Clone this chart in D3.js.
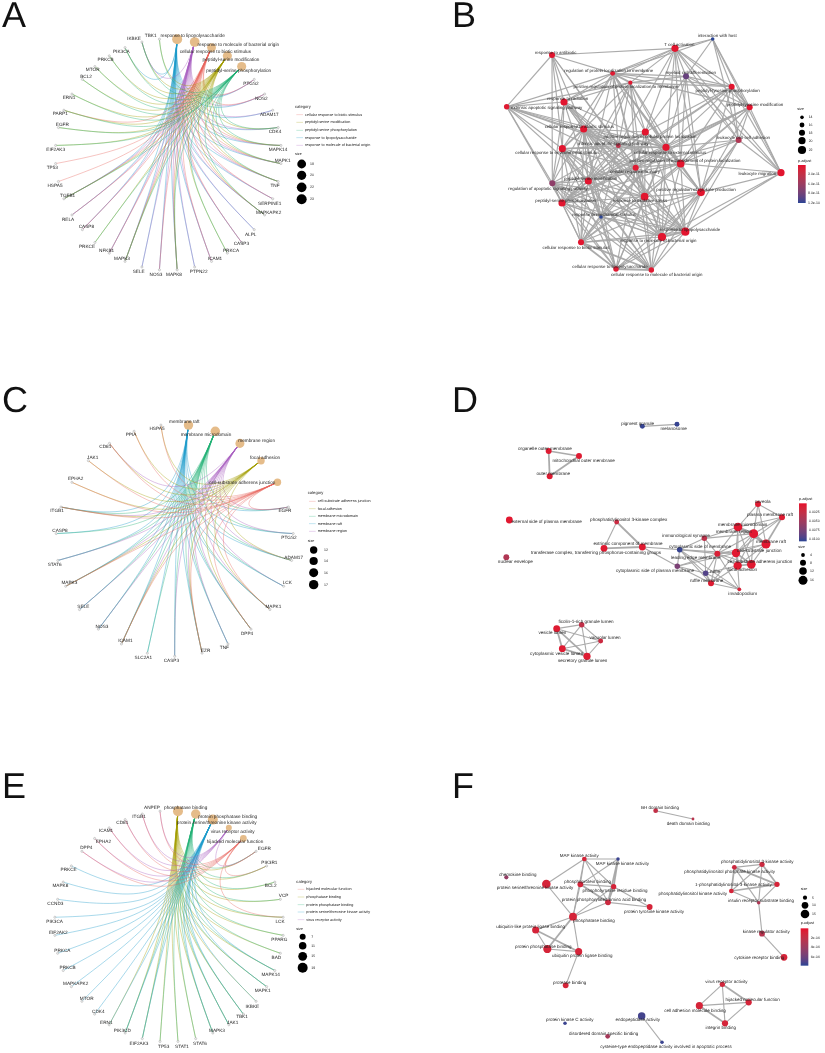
<!DOCTYPE html>
<html><head><meta charset="utf-8">
<script src="https://cdn.jsdelivr.net/npm/d3@7"></script>
<style>
html,body{margin:0;padding:0;background:#fff}
svg{display:block;filter:blur(0.3px)}
text{font-family:"Liberation Sans",Arial,sans-serif;fill:#222;text-rendering:geometricPrecision}
</style></head><body>
<svg id="chart" width="825" height="1053" text-rendering="geometricPrecision"></svg>
<script>
/* ---------- Panel A: circular gene-concept network ---------- */
const aCats=["response to lipopolysaccharide","response to molecule of bacterial origin","cellular response to biotic stimulus","peptidyl-serine modification","peptidyl-serine phosphorylation"];
const aCatSizes=[23,22,19,20,20];
const aCatColorIdx=[3,4,0,1,2];
const aCatLabelXY=[[578,107],[715,133],[646,155],[693,178],[716,211]];
const aGenes=["PTGS2","NOS2","ADAM17","CDK4","MAPK14","MAPK1","TNF","SERPINE1","MAPKAPK2","ALPL","CASP3","PRKCA","ICAM1","PTPN22","MAPK8","NOS3","SELE","MAPK3","NFKB1","PRKCE","CASP8","RELA","TGFB1","HSPA5","TP53","EIF2AK3","EGFR","PARP1","ERN1","BCL2","MTOR","PRKCB","PIK3CA","IKBKE","TBK1"];
const aGeneLabelXY=[[753,249],[784,294],[808,343],[825,394],[834,449],[848,481],[825,556],[809,609],[806,636],[752,702],[724,731],[693,752],[645,776],[596,815],[522,822],[468,822],[416,814],[366,776],[320,752],[261,740],[259,680],[204,657],[203,586],[165,557],[157,503],[167,448],[187,373],[181,341],[207,293],[258,228],[278,207],[317,179],[364,155],[402,116],[452,107]];
const aMembers=[
["PTGS2","NOS2","ADAM17","MAPK14","MAPK1","TNF","SERPINE1","MAPKAPK2","ALPL","CASP3","ICAM1","PTPN22","MAPK8","NOS3","SELE","MAPK3","NFKB1","CASP8","RELA","TGFB1","PIK3CA","IKBKE","CDK4"],
["PTGS2","NOS2","ADAM17","MAPK14","MAPK1","TNF","SERPINE1","MAPKAPK2","ALPL","CASP3","ICAM1","PTPN22","MAPK8","NOS3","SELE","MAPK3","NFKB1","CASP8","RELA","TGFB1","IKBKE","CDK4"],
["PTGS2","NOS2","MAPK14","MAPK1","TNF","SERPINE1","MAPKAPK2","CASP3","ICAM1","MAPK8","NOS3","MAPK3","NFKB1","RELA","TGFB1","HSPA5","TP53","PARP1","CASP8"],
["CDK4","MAPK14","MAPK1","TNF","MAPKAPK2","PRKCA","MAPK8","MAPK3","PRKCE","TGFB1","EIF2AK3","EGFR","PARP1","ERN1","BCL2","MTOR","PRKCB","PIK3CA","IKBKE","TBK1"],
["CDK4","MAPK14","MAPK1","TNF","MAPKAPK2","PRKCA","MAPK8","MAPK3","PRKCE","TGFB1","EIF2AK3","EGFR","PARP1","ERN1","BCL2","MTOR","PRKCB","PIK3CA","IKBKE","TBK1"]];
const aLegendCats=["cellular response to biotic stimulus","peptidyl-serine modification","peptidyl-serine phosphorylation","response to lipopolysaccharide","response to molecule of bacterial origin"];
const aLegendSizes=[19,20,22,23];

/* ---------- Panel C ---------- */
const cCats=["membrane raft","membrane microdomain","membrane region","focal adhesion","cell-substrate adherens junction"];
const cCatSizes=[17,17,16,12,12];
const cCatColorIdx=[3,2,4,1,0];
const cCatLabelXY=[[553,140],[618,179],[770,196],[795,247],[727,322]];
const cGenes=["EGFR","PTGS2","ADAM17","LCK","MAPK1","DPP4","TNF","EZR","CASP3","SLC2A1","ICAM1","NOS3","SELE","MAPK3","STAT6","CASP8","ITGB1","EPHA2","JAK1","CD81","PPIA","HSPA5"];
const cGeneLabelXY=[[855,405],[867,488],[881,547],[862,623],[820,695],[741,775],[673,818],[617,825],[514,855],[430,848],[376,797],[306,753],[250,695],[208,623],[164,568],[180,465],[171,407],[227,311],[278,247],[316,215],[393,178],[471,160]];
const cMembers=[
["EGFR","PTGS2","ADAM17","LCK","MAPK1","TNF","EZR","CASP3","SLC2A1","NOS3","SELE","MAPK3","STAT6","CASP8","ITGB1","DPP4","ICAM1"],
["EGFR","PTGS2","ADAM17","LCK","MAPK1","TNF","EZR","CASP3","SLC2A1","NOS3","SELE","MAPK3","STAT6","CASP8","ITGB1","DPP4","ICAM1"],
["EGFR","PTGS2","ADAM17","LCK","MAPK1","TNF","DPP4","CASP3","ICAM1","NOS3","SELE","MAPK3","STAT6","ITGB1","CD81","EZR"],
["HSPA5","PPIA","CD81","JAK1","EPHA2","ITGB1","MAPK3","ICAM1","EZR","DPP4","MAPK1","ADAM17"],
["HSPA5","PPIA","CD81","JAK1","EPHA2","ITGB1","MAPK3","ICAM1","EZR","DPP4","MAPK1","EGFR"]];
const cLegendCats=["cell-substrate adherens junction","focal adhesion","membrane microdomain","membrane raft","membrane region"];
const cLegendSizes=[12,14,16,17];

/* ---------- Panel E ---------- */
const eCats=["phosphatase binding","protein phosphatase binding","protein serine/threonine kinase activity","virus receptor activity","hijacked molecular function"];
const eCatSizes=[19,17,19,7,9];
const eCatColorIdx=[1,2,3,4,0];
const eCatLabelXY=[[557,128],[683,153],[650,173],[698,198],[705,230]];
const eGenes=["EGFR","PIK3R1","BCL2","VCP","LCK","PPARG","BAD","MAPK14","MAPK1","IKBKE","TBK1","JAK1","MAPK3","STAT6","STAT1","TP53","EIF2AK3","PIK3CD","ERN1","CDK4","MTOR","MAPKAPK2","PRKCB","PRKCA","EIF2AK2","PIK3CA","CCND3","MAPK8","PRKCE","DPP4","EPHA2","ICAM1","CD81","ITGB1","ANPEP"];
const eGeneLabelXY=[[793,250],[808,292],[812,362],[851,392],[840,468],[838,524],[829,578],[812,629],[788,677],[757,723],[726,753],[698,773],[651,796],[600,836],[546,844],[491,843],[417,835],[367,797],[319,772],[295,740],[260,700],[227,655],[203,607],[187,556],[175,503],[164,468],[166,414],[181,362],[206,314],[259,247],[310,230],[318,196],[367,173],[417,155],[456,128]];
const eMembers=[
["EGFR","PIK3R1","BCL2","VCP","LCK","PPARG","BAD","MAPK14","MAPK1","IKBKE","JAK1","MAPK3","STAT6","STAT1","TP53","EIF2AK3","PIK3CD","TBK1","ERN1"],
["PIK3R1","BCL2","VCP","LCK","PPARG","BAD","MAPK14","MAPK1","JAK1","MAPK3","STAT6","STAT1","TP53","EIF2AK3","EGFR","PIK3CD","TBK1"],
["MAPK14","MAPK1","IKBKE","TBK1","JAK1","MAPK3","EIF2AK3","PIK3CD","ERN1","CDK4","MTOR","MAPKAPK2","PRKCB","PRKCA","EIF2AK2","PIK3CA","CCND3","MAPK8","PRKCE"],
["EGFR","DPP4","EPHA2","ICAM1","CD81","ITGB1","ANPEP"],
["EGFR","DPP4","EPHA2","ICAM1","CD81","ITGB1","ANPEP","PIK3R1","LCK"]];
const eLegendCats=["hijacked molecular function","phosphatase binding","protein phosphatase binding","protein serine/threonine kinase activity","virus receptor activity"];
const eLegendSizes=[7,11,15,19];

/* ---------- Panel B: enrichment map ---------- */
const bTerms=["interaction with host","T cell activation","response to antibiotic","regulation of protein localization to membrane","myeloid cell differentiation","positive regulation of protein localization to membrane","peptidyl-tyrosine phosphorylation","response to radiation","extrinsic apoptotic signaling pathway","peptidyl-tyrosine modification","cellular response to abiotic stimulus","positive regulation of cellular protein localization","leukocyte cell-cell adhesion","intrinsic apoptotic signaling pathway","cellular response to external stimulus","cellular response to environmental stimulus","positive regulation of establishment of protein localization","cellular response to injury","leukocyte migration","peptidyl-serine modification","regulation of apoptotic signaling pathway","positive regulation of cytokine production","response to oxidative stress","peptidyl-serine phosphorylation","response to mechanical stimulus","response to lipopolysaccharide","response to molecule of bacterial origin","cellular response to biotic stimulus","cellular response to lipopolysaccharide","cellular response to molecule of bacterial origin"];
const bX=[878,765,396,578,798,631,935,432,260,989,491,676,956,595,738,427,782,647,1083,505,397,843,674,426,543,796,726,483,588,694];
const bY=[117,145,165,220,229,248,260,306,320,322,387,396,420,437,442,446,491,503,518,543,550,577,590,609,651,695,711,727,807,810];
const bLabelX=[892,778,407,566,812,618,923,443,380,1005,478,690,970,580,750,412,795,645,1012,512,384,828,660,437,552,810,715,468,570,710];
const bLabelY=[107,133,157,210,218,258,272,296,323,312,378,409,411,429,456,457,482,514,520,534,564,569,602,601,644,687,722,741,800,823];
const bSize=[14,20,18,16,18,15,18,20,17,18,20,20,18,16,20,20,21,18,20,20,18,21,21,20,14,22,22,18,17,17];
const bP=[1.2e-10,5e-12,5e-12,8e-12,9.5e-11,8e-12,5e-12,5e-12,8e-12,5e-12,5e-12,5e-12,4.5e-11,3.5e-11,5e-12,5e-12,5e-12,8e-12,5e-12,5e-12,7e-11,5e-12,5e-12,5e-12,1.2e-10,5e-12,5e-12,5e-12,8e-12,8e-12];
const bAdj=[[1,4,6,9,12,18,3],[2,3,4,5,6,9,11,12,14,16,18,21,7,13],[3,7,8,10,15,20,17,13],[4,5,6,7,8,9,10,11,13,14,15,16,17,19,22,21],[5,6,9,12,16,18,21,11,14],[6,7,8,10,11,13,14,16,17,19,22,23],[9,12,18,16,21,19,23,11,14],[8,10,15,20,17,22,14,13,24,26,25],[10,13,15,20,19,23,17,16,14],[12,16,18,21,19,23,14,17,22],[11,13,14,15,16,17,19,20,22,23,24,25,26,27,28,29],[13,14,16,17,19,21,22,23,25,26],[14,16,18,21,25,26,17],[14,15,16,17,20,22,24,27,19,23],[15,16,17,19,21,22,23,24,25,26,27,28,29],[17,19,20,22,23,24,25,26,27,28,29],[17,18,19,21,22,23,25,26,27],[19,20,21,22,23,24,25,26,27,28,29],[21,25,26],[20,22,23,25,26,27,28,29,24],[22,23,24,27,25,26,28,29],[22,25,26,27,28,29,24],[23,24,25,26,27,28,29],[24,25,26,27,28,29],[25,26,27,28,29],[26,27,28,29],[27,28,29],[28,29],[29],[]];
const bStrong=[[25,26],[19,23],[6,9],[28,29],[15,10],[3,5],[27,28],[27,29]];
const bSizeLegend=[14,16,18,20,22];
const bPTicks=[3e-11,6e-11,9e-11,1.2e-10];
const bPTickLabels=["3.0e-11","6.0e-11","9.0e-11","1.2e-10"];

/* ---------- Panel D: enrichment map ---------- */
const dTerms=["pigment granule","melanosome","organelle outer membrane","mitochondrial outer membrane","outer membrane","caveola","plasma membrane raft","external side of plasma membrane","phosphatidylinositol 3-kinase complex","membrane microdomain","membrane region","membrane raft","immunological synapse","extrinsic component of membrane","transferase complex, transferring phosphorus-containing groups","cytoplasmic side of membrane","cell-substrate junction","leading edge membrane","focal adhesion","cell-substrate adherens junction","nuclear envelope","cytoplasmic side of plasma membrane","ruffle","ruffle membrane","invadopodium","ficolin-1-rich granule lumen","vesicle lumen","vacuolar lumen","cytoplasmic vesicle lumen","secretory granule lumen"];
const dX=[457,561,176,267,179,804,876,58,380,744,791,828,643,342,457,569,738,682,743,784,49,562,647,663,748,275,200,332,217,291];
const dY=[79,73,153,168,229,312,352,360,366,381,401,432,415,445,441,449,459,461,497,493,472,499,520,550,568,674,686,723,746,769];
const dLabelX=[443,551,165,281,190,818,840,170,416,758,731,843,588,414,318,630,808,617,757,810,76,495,675,650,758,288,187,345,200,278];
const dLabelY=[70,85,145,180,220,303,344,365,358,372,393,423,407,431,456,440,450,472,509,485,483,510,515,541,579,665,698,712,759,781];
const dSize=[6,6,8,8,8,8,8,10,6,15,16,16,7,10,10,7,14,8,14,15,8,7,7,8,4,7,10,6,10,11];
const dP=[.0105,.0105,.0006,.0006,.0006,.0006,.0006,.0004,.002,.0004,.0004,.0004,.003,.0005,.0005,.0105,.0004,.001,.0004,.0004,.004,.0075,.0095,.0006,.0012,.0028,.0006,.002,.0006,.0006];
const dLinks=[[0,1],[2,3,1],[2,4,1],[3,4,1],[5,6],[5,9],[5,10],[5,11],[6,9],[6,10],[6,11,1],[6,16],[8,13],[8,14,1],[13,14,1],[14,15],[14,21],[9,10,1],[9,11,1],[10,11,1],[9,16],[9,18],[9,19],[10,16],[10,18],[10,19],[11,16],[11,18],[11,19],[9,17],[10,17],[11,17],[12,9],[12,10],[12,17],[12,15],[12,22],[15,21],[15,22],[15,24],[15,23],[15,16],[15,17],[16,18,1],[16,19,1],[18,19,1],[16,17],[17,18],[17,19],[17,22],[17,23],[17,24],[17,21],[21,22],[21,23],[21,16],[22,23,1],[22,18],[22,24],[23,18],[23,24],[23,16],[24,18],[25,26],[25,27],[25,28],[25,29],[26,27],[26,28,1],[26,29,1],[27,28],[27,29],[28,29,1]];
const dSizeLegend=[4,8,12,16];
const dPTicks=[.0025,.005,.0075,.01];
const dPTickLabels=["0.0025","0.0050","0.0075","0.0100"];

/* ---------- Panel F: enrichment map ---------- */
const fTerms=["BH domain binding","death domain binding","MAP kinase activity","MAP kinase kinase activity","chemokine binding","protein serine/threonine kinase activity","phosphoprotein binding","phosphotyrosine residue binding","protein phosphorylated amino acid binding","protein tyrosine kinase activity","phosphatase binding","ubiquitin-like protein ligase binding","protein phosphatase binding","ubiquitin protein ligase binding","protease binding","phosphatidylinositol 3-kinase activity","phosphatidylinositol phosphate kinase activity","1-phosphatidylinositol-3-kinase activity","phosphatidylinositol kinase activity","insulin receptor substrate binding","kinase regulator activity","cytokine receptor binding","virus receptor activity","hijacked molecular function","cell adhesion molecule binding","integrin binding","protein kinase C activity","endopeptidase activity","disordered domain specific binding","cysteine-type endopeptidase activity involved in apoptotic process"];
const fX=[557,669,343,444,109,229,331,431,414,539,309,197,232,326,287,876,793,921,784,866,876,942,757,836,688,765,285,515,413,576];
const fY=[62,87,207,207,262,282,283,290,337,351,380,420,477,485,586,223,232,283,303,338,431,502,583,637,647,700,700,678,739,757];
const fLabelX=[570,655,328,457,143,195,353,435,402,552,372,182,220,337,299,862,779,790,668,873,889,868,769,848,675,752,299,503,401,588];
const fLabelY=[51,99,196,220,254,293,273,302,328,364,392,409,468,497,577,213,245,284,310,330,423,503,575,628,660,713,688,689,730,769];
const fSize=[6,3,6,4,5,15,8,7,8,8,13,11,14,11,8,7,6,7,6,4,8,10,7,9,11,9,4,12,6,4];
const fP=[2e-4,2.5e-4,1e-4,7.4e-4,4.2e-4,1e-4,1e-4,1e-4,1.5e-4,1e-4,1e-4,1e-4,1e-4,1e-4,1e-4,1.5e-4,1.5e-4,1e-4,1e-4,3e-4,2.5e-4,1e-4,1.2e-4,1e-4,1e-4,1e-4,7.4e-4,7.2e-4,3.4e-4,7.4e-4];
const fLinks=[[0,1],[2,3],[2,5],[2,6],[2,8],[2,7],[2,10],[3,7,1],[3,8,1],[3,6],[5,10],[6,7],[6,8,1],[6,10],[7,8,1],[7,9],[7,10],[8,10],[8,9],[10,11],[10,12,1],[10,13],[11,12],[11,13,1],[12,13],[13,14],[15,16],[15,17,1],[15,18],[16,17,1],[16,18,1],[17,18,1],[15,19],[16,19],[17,19],[18,19],[19,20],[20,21],[22,23,1],[22,24],[22,25],[23,24],[24,25,1],[23,25],[27,29]];
const fSizeLegend=[5,10,15];
const fPTicks=[2e-4,4e-4,6e-4];
const fPTickLabels=["2e-04","4e-04","6e-04"];

/* ---------- Style ---------- */
const hue=["#E8655C","#A39E00","#1FAF73","#1C9CCB","#A85FC0"];
const svg=d3.select("#chart");
const defs=svg.append("defs");

/* Panel letters */
[["A",2,27],["B",452,27],["C",2,412],["D",452,412],["E",2,798],["F",452,798]].forEach(l=>{
  svg.append("text").attr("x",l[1]).attr("y",l[2]).attr("font-size",36).style("fill","#111").text(l[0]);
});

function zoomScales(ox,oy,w,h){
  return {x:d3.scaleLinear().domain([0,w]).range([ox,ox+w/3]),
          y:d3.scaleLinear().domain([0,h]).range([oy,oy+h/3])};
}

function cnet(o){
  const g=svg.append("g");
  const n=o.cats.length+o.genes.length;
  const z=zoomScales(o.ox,o.oy,1200,1200);
  const ang=d3.scaleLinear().domain([-0.5,n-0.5]).range([0,2*Math.PI]);
  const ux=d3.scaleLinear().domain([-1,1]).range([o.cx-o.rx,o.cx+o.rx]);
  const uy=d3.scaleLinear().domain([-1,1]).range([o.cy-o.ry,o.cy+o.ry]);
  const pos=i=>[ux(Math.sin(ang(i))),uy(-Math.cos(ang(i)))];
  const rScale=d3.scaleSqrt().domain(o.sizeDomain).range(o.sizeRange);
  const idx=new Map(o.genes.map((d,i)=>[d,i+o.cats.length]));
  const O=[o.cx,o.cy-o.lift];
  const edges=[];
  o.members.forEach((m,c)=>m.forEach(ge=>edges.push({c,g:idx.get(ge)})));
  /* pull of the arc toward the centre grows with the angular separation of the two ends */
  const pull=d3.scaleLinear().domain([0,Math.PI*0.6]).range([0.35,0.88]).clamp(true);
  g.append("g").selectAll("path").data(edges).join("path")
    .attr("d",e=>{
      const P=pos(e.c),Q=pos(e.g);
      let sep=Math.abs(ang(e.c)-ang(e.g));if(sep>Math.PI)sep=2*Math.PI-sep;
      const S=pull(sep);
      const p=d3.path();p.moveTo(P[0],P[1]);
      p.bezierCurveTo(P[0]+S*(O[0]-P[0]),P[1]+S*(O[1]-P[1]),Q[0]+S*(O[0]-Q[0]),Q[1]+S*(O[1]-Q[1]),Q[0],Q[1]);
      return p.toString();
    })
    .attr("fill","none").attr("stroke",e=>hue[o.colorIdx[e.c]])
    .attr("stroke-width",0.7).attr("stroke-opacity",0.55);
  /* gene nodes */
  g.append("g").selectAll("circle").data(o.genes).join("circle")
    .attr("cx",(d,i)=>pos(i+o.cats.length)[0]).attr("cy",(d,i)=>pos(i+o.cats.length)[1])
    .attr("r",1.1).attr("fill","#eee").attr("stroke","#999").attr("stroke-width",0.4);
  /* category nodes */
  g.append("g").selectAll("circle").data(o.cats).join("circle")
    .attr("cx",(d,i)=>pos(i)[0]).attr("cy",(d,i)=>pos(i)[1])
    .attr("r",(d,i)=>rScale(o.sizes[i])).attr("fill","#E5BC8A");
  /* labels */
  const lab=(names,xy)=>g.append("g").selectAll("text").data(names).join("text")
    .attr("x",(d,i)=>z.x(xy[i][0])).attr("y",(d,i)=>z.y(xy[i][1]))
    .attr("text-anchor","middle").attr("dominant-baseline","central").attr("font-size",4.7).text(d=>d);
  lab(o.genes,o.geneLabels);lab(o.cats,o.catLabels);
  /* legend */
  const L=o.legend,lg=g.append("g");
  const tx=(s,x,y,fs)=>lg.append("text").attr("x",z.x(x)).attr("y",z.y(y)).attr("dominant-baseline","central").attr("font-size",fs).text(s);
  tx("category",L.x,L.titleY,4.1);
  o.legendCats.forEach((c,i)=>{
    const y=L.catYs[i];
    lg.append("line").attr("x1",z.x(L.x+4)).attr("x2",z.x(L.x+24)).attr("y1",z.y(y)).attr("y2",z.y(y))
      .attr("stroke",hue[i]).attr("stroke-opacity",0.45).attr("stroke-width",0.6);
    tx(c,L.x+30,y,3.75);
  });
  tx("size",L.x,L.sizeTitleY,3.8);
  o.legendSizes.forEach((s,i)=>{
    lg.append("circle").attr("cx",z.x(L.dotX)).attr("cy",z.y(L.dotYs[i])).attr("r",rScale(s)).attr("fill","#000");
    tx(s,L.dotLabelX,L.dotYs[i],3.5);
  });
}

cnet({cats:aCats,sizes:aCatSizes,colorIdx:aCatColorIdx,catLabels:aCatLabelXY,genes:aGenes,geneLabels:aGeneLabelXY,members:aMembers,
  legendCats:aLegendCats,legendSizes:aLegendSizes,ox:0,oy:0,cx:168.3,cy:154.5,rx:113,ry:115.7,lift:12,sizeDomain:[19,23],sizeRange:[4.4,5],
  legend:{x:885,titleY:320,catYs:[344,367,391,413,436],sizeTitleY:463,dotX:905,dotYs:[492,526,562,598],dotLabelX:930}});
cnet({cats:cCats,sizes:cCatSizes,colorIdx:cCatColorIdx,catLabels:cCatLabelXY,genes:cGenes,geneLabels:cGeneLabelXY,members:cMembers,
  legendCats:cLegendCats,legendSizes:cLegendSizes,ox:0,oy:375,cx:174.7,cy:540.3,rx:118.7,ry:116,lift:12,sizeDomain:[12,17],sizeRange:[3.7,4.7],
  legend:{x:923,titleY:353,catYs:[379,401,424,446,469],sizeTitleY:498,dotX:941,dotYs:[525,558,593,629],dotLabelX:972}});
cnet({cats:eCats,sizes:eCatSizes,colorIdx:eCatColorIdx,catLabels:eCatLabelXY,genes:eGenes,geneLabels:eGeneLabelXY,members:eMembers,
  legendCats:eLegendCats,legendSizes:eLegendSizes,ox:0,oy:765,cx:169,cy:926.3,rx:114.5,ry:115.5,lift:12,sizeDomain:[7,19],sizeRange:[3,5],
  legend:{x:889,titleY:348,catYs:[373,396,419,441,464],sizeTitleY:492,dotX:908,dotYs:[515,542,574,608],dotLabelX:934}});

function emap(o){
  const g=svg.append("g");
  const z=zoomScales(o.ox,o.oy,1200,1200);
  const rScale=d3.scaleSqrt().domain(o.sizeDomain).range(o.sizeRange);
  const col=d3.scaleLinear().domain(o.pDomain).range(["#E60F2C","#2B4494"]).interpolate(d3.interpolateLab);
  g.append("g").selectAll("line").data(o.links).join("line")
    .attr("x1",d=>z.x(o.X[d[0]])).attr("y1",d=>z.y(o.Y[d[0]]))
    .attr("x2",d=>z.x(o.X[d[1]])).attr("y2",d=>z.y(o.Y[d[1]]))
    .attr("stroke","#a6a6a6").attr("stroke-opacity",o.edgeOpacity)
    .attr("stroke-width",d=>d[2]?o.edgeW*1.6:o.edgeW);
  g.append("g").selectAll("circle").data(o.terms).join("circle")
    .attr("cx",(d,i)=>z.x(o.X[i])).attr("cy",(d,i)=>z.y(o.Y[i]))
    .attr("r",(d,i)=>rScale(o.size[i])).attr("fill",(d,i)=>col(o.P[i]));
  g.append("g").selectAll("text").data(o.terms).join("text")
    .attr("x",(d,i)=>z.x(o.LX[i])).attr("y",(d,i)=>z.y(o.LY[i]))
    .attr("text-anchor","middle").attr("dominant-baseline","central").attr("font-size",o.fs).text(d=>d);
  /* size legend */
  const L=o.legend,lg=g.append("g");
  const tx=(s,x,y,fs)=>lg.append("text").attr("x",z.x(x)).attr("y",z.y(y)).attr("dominant-baseline","central").attr("font-size",fs).text(s);
  tx("size",L.sizeTitleX,L.sizeTitleY,3.8);
  o.sizeLegend.forEach((s,i)=>{
    lg.append("circle").attr("cx",z.x(L.dotX)).attr("cy",z.y(L.dotYs[i])).attr("r",rScale(s)).attr("fill","#000");
    tx(s,L.dotLabelX,L.dotYs[i],3.5);
  });
  /* colour bar */
  tx("p.adjust",L.barX,L.barTitleY,3.8);
  const gid="grad"+o.ox+"_"+o.oy;
  const grad=defs.append("linearGradient").attr("id",gid).attr("x1",0).attr("x2",0).attr("y1",0).attr("y2",1);
  d3.range(0,1.001,0.1).forEach(t=>grad.append("stop").attr("offset",t)
     .attr("stop-color",col(o.pDomain[0]+t*(o.pDomain[1]-o.pDomain[0]))));
  const by=d3.scaleLinear().domain(o.pDomain).range([z.y(L.barTop),z.y(L.barBottom)]);
  lg.append("rect").attr("x",z.x(L.barX)).attr("y",by.range()[0]).attr("width",z.x(L.barX+23)-z.x(L.barX))
    .attr("height",by.range()[1]-by.range()[0]).attr("fill","url(#"+gid+")");
  o.pTicks.forEach((t,i)=>{
    lg.append("text").attr("x",z.x(L.barX+30)).attr("y",by(t)).attr("dominant-baseline","central")
      .attr("font-size",3.5).text(o.pTickLabels[i]);
  });
}

const bLinks=[];
bAdj.forEach((a,i)=>a.forEach(j=>{
  const s=bStrong.some(p=>(p[0]===i&&p[1]===j)||(p[0]===j&&p[1]===i));
  bLinks.push(s?[i,j,1]:[i,j]);
}));
emap({terms:bTerms,X:bX,Y:bY,LX:bLabelX,LY:bLabelY,size:bSize,P:bP,links:bLinks,ox:420,oy:0,fs:4.4,edgeW:1.15,edgeOpacity:.95,
  sizeDomain:[14,22],sizeRange:[1.8,4.1],pDomain:[2e-12,1.2e-10],sizeLegend:bSizeLegend,pTicks:bPTicks,pTickLabels:bPTickLabels,
  legend:{sizeTitleX:1132,sizeTitleY:328,dotX:1146,dotYs:[352,375,398,422,450],dotLabelX:1166,barX:1134,barTitleY:483,barTop:495,barBottom:609}});
emap({terms:dTerms,X:dX,Y:dY,LX:dLabelX,LY:dLabelY,size:dSize,P:dP,links:dLinks,ox:490,oy:400,fs:4.6,edgeW:1.1,edgeOpacity:.95,
  sizeDomain:[4,16],sizeRange:[1.9,4.5],pDomain:[0,.0108],sizeLegend:dSizeLegend,pTicks:dPTicks,pTickLabels:dPTickLabels,
  legend:{sizeTitleX:925,sizeTitleY:442,dotX:939,dotYs:[465,488,513,541],dotLabelX:960,barX:927,barTitleY:298,barTop:310,barBottom:424}});
emap({terms:fTerms,X:fX,Y:fY,LX:fLabelX,LY:fLabelY,size:fSize,P:fP,links:fLinks,ox:470,oy:790,fs:4.5,edgeW:1.1,edgeOpacity:.95,
  sizeDomain:[3,15],sizeRange:[1.4,4.3],pDomain:[1e-5,7.7e-4],sizeLegend:fSizeLegend,pTicks:fPTicks,pTickLabels:fPTickLabels,
  legend:{sizeTitleX:992,sizeTitleY:298,dotX:1005,dotYs:[323,346,372],dotLabelX:1026,barX:992,barTitleY:400,barTop:415,barBottom:527}});
</script>
</body></html>
